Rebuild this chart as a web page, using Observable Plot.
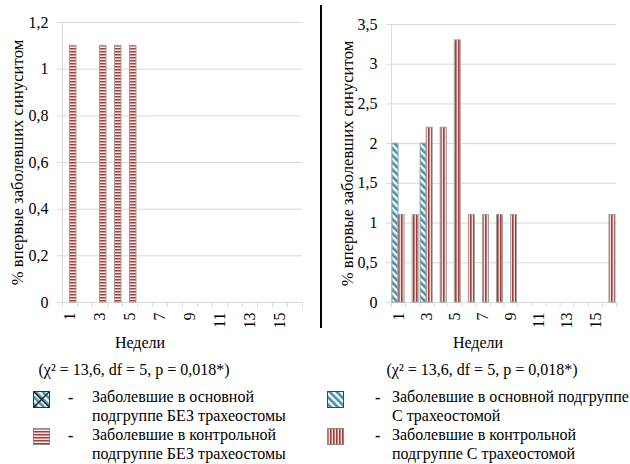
<!DOCTYPE html>
<html><head><meta charset="utf-8">
<script src="https://cdn.jsdelivr.net/npm/d3@7"></script>
<script src="https://cdn.jsdelivr.net/npm/@observablehq/plot@0.6"></script>
<style>
body{margin:0;background:#fff;font-family:"Liberation Serif","Times New Roman",serif;color:#000}
#wrap{position:relative;width:630px;height:464px;overflow:hidden;background:#fff}
.abs{position:absolute;white-space:nowrap;font-size:16px;line-height:19px;font-family:"Liberation Serif","Times New Roman",serif}
.ctr{transform:translateX(-50%)}
#left,#right{position:absolute;top:0}
#left{left:0}
#right{left:320px}
#left svg text,#right svg text{font-family:"Liberation Serif","Times New Roman",serif}
#divider{position:absolute;left:320px;top:5px;width:2px;height:323px;background:#000}
.sw{position:absolute;width:17px;height:17px}
</style></head><body>
<svg width="0" height="0" style="position:absolute">
  <defs>
    <pattern id="hRed" patternUnits="userSpaceOnUse" width="4" height="3">
      <rect width="4" height="3" fill="#f8e8e8"/>
      <rect width="4" height="1.5" fill="#a93c37"/>
    </pattern>
    <pattern id="vRed" patternUnits="userSpaceOnUse" width="3" height="4">
      <rect width="3" height="4" fill="#f2dedd"/>
      <rect width="1.6" height="4" fill="#a83a35"/>
    </pattern>
    <pattern id="dBlue" patternUnits="userSpaceOnUse" width="5" height="5" patternTransform="rotate(-45)">
      <rect width="5" height="5" fill="#ffffff"/>
      <rect width="2.6" height="5" fill="#3a92b6"/>
    </pattern>
  </defs>
</svg>
<div id="wrap">
  <div id="left"></div>
  <div id="right"></div>
  <div id="divider"></div>
  <div id="captions"></div>
  <div id="legend"></div>
</div>
<script>
// ---- data ----
const weeks = [1,2,3,4,5,6,7,8,9,10,11,12,13,14,15,16];
const weekLabels = [1,3,5,7,9,11,13,15];
const leftMainNoTrach    = [0,0,0,0,0,0,0,0,0,0,0,0,0,0,0,0];
const leftControlNoTrach = [1.1,0,1.1,1.1,1.1,0,0,0,0,0,0,0,0,0,0,0];
const rightMainTrach     = [2,0,2,0,0,0,0,0,0,0,0,0,0,0,0,0];
const rightControlTrach  = [1.1,1.1,2.2,2.2,3.3,1.1,1.1,1.1,1.1,0,0,0,0,0,0,1.1];
const leftYTicks  = [0,0.2,0.4,0.6,0.8,1,1.2];
const rightYTicks = [0,0.5,1,1.5,2,2.5,3,3.5];
const yTitle = "% впервые заболевших синуситом";
const xTitle = "Недели";
const statText = "(χ² = 13,6, df = 5, p = 0,018*)";
const legendLeftLabels = [
  ["Заболевшие в основной", "подгруппе БЕЗ трахеостомы"],
  ["Заболевшие в контрольной", "подгруппе БЕЗ трахеостомы"]
];
const legendRightLabels = [
  ["Заболевшие в основной подгруппе", "С трахеостомой"],
  ["Заболевшие в контрольной", "подгруппе С трахеостомой"]
];

const toRows = arr => weeks.map((w, i) => ({week: w, value: arr[i]}));
const fmt = d => String(d).replace(".", ",");
const GRID = "#d9d9d9";
const FONT = "Liberation Serif, Times New Roman, serif";

function chart({width, height, marginLeft, marginRight, marginTop, marginBottom, yTicks, seriesA, seriesB, fillA, fillB, titleDx}) {
  const cw = (width - marginLeft - marginRight) / weeks.length;
  const bounds = weeks.map(w => w - 0.5).concat([weeks[weeks.length - 1] + 0.5]);
  const barOpts = (fill, l, r) => ({
    x1: d => d.week - 0.5, x2: d => d.week + 0.5,
    y1: d => 0, y2: "value",
    filter: d => d.value > 0,
    fill, stroke: "#9e9e9e", strokeWidth: 1,
    insetLeft: l, insetRight: r
  });
  return Plot.plot({
    width, height, marginLeft, marginRight, marginTop, marginBottom,
    style: {fontFamily: FONT, fontSize: "16px", background: "transparent", color: "#000"},
    x: {domain: [bounds[0], bounds[bounds.length - 1]]},
    y: {domain: [0, yTicks[yTicks.length - 1]]},
    marks: [
      Plot.gridY(yTicks, {stroke: GRID, strokeOpacity: 1}),
      Plot.axisY(yTicks, {tickSize: 5, tickPadding: 9, stroke: GRID, strokeOpacity: 1, tickFormat: fmt, fontSize: 16, fontFamily: FONT, label: null}),
      Plot.axisX(bounds, {tickSize: 5, tickFormat: () => "", stroke: GRID, strokeOpacity: 1, label: null}),
      Plot.axisX(weekLabels, {tickSize: 0, tickRotate: -90, tickPadding: 10, fontSize: 16, fontFamily: FONT, label: null}),
      Plot.ruleX([bounds[0]], {stroke: GRID, strokeOpacity: 1}),
      Plot.ruleY([0], {stroke: GRID, strokeOpacity: 1}),
      Plot.rect(toRows(seriesA), barOpts(fillA, 1, cw / 2)),
      Plot.rect(toRows(seriesB), barOpts(fillB, cw / 2, 1)),
      Plot.text([yTitle], {frameAnchor: "left", text: d => d, rotate: -90, dx: titleDx, textAnchor: "middle", lineAnchor: "middle", fontSize: 16.7, fontFamily: FONT, fill: "#000"})
    ]
  });
}

document.getElementById("left").appendChild(chart({
  width: 320, height: 330, marginLeft: 62, marginRight: 18, marginTop: 22, marginBottom: 28,
  yTicks: leftYTicks, seriesA: leftMainNoTrach, seriesB: leftControlNoTrach,
  fillA: "url(#dBlue)", fillB: "url(#hRed)", titleDx: -45
}));
document.getElementById("right").appendChild(chart({
  width: 310, height: 330, marginLeft: 71, marginRight: 14, marginTop: 24, marginBottom: 28,
  yTicks: rightYTicks, seriesA: rightMainTrach, seriesB: rightControlTrach,
  fillA: "url(#dBlue)", fillB: "url(#vRed)", titleDx: -44
}));

// captions
const cap = document.getElementById("captions");
function addText(parent, txt, left, top, cls) {
  const d = document.createElement("div");
  d.className = "abs " + (cls || "");
  d.style.left = left + "px"; d.style.top = top + "px";
  d.textContent = txt;
  parent.appendChild(d);
  return d;
}
addText(cap, xTitle, 140, 333, "ctr");
addText(cap, xTitle, 478, 333, "ctr");
addText(cap, statText, 134, 360, "ctr");
addText(cap, statText, 482, 360, "ctr");

// legend
const leg = document.getElementById("legend");
function swatch(left, top, fill, border, cross) {
  const ns = "http://www.w3.org/2000/svg";
  const s = document.createElementNS(ns, "svg");
  s.setAttribute("class", "sw");
  s.setAttribute("width", 17); s.setAttribute("height", 17);
  s.style.left = left + "px"; s.style.top = top + "px";
  const r = document.createElementNS(ns, "rect");
  r.setAttribute("x", 0.5); r.setAttribute("y", 0.5);
  r.setAttribute("width", 16); r.setAttribute("height", 16);
  r.setAttribute("fill", fill); r.setAttribute("stroke", border);
  s.appendChild(r);
  if (cross) {
    for (const [a, b, c, e] of [[1,1,16,16],[16,1,1,16]]) {
      const l = document.createElementNS(ns, "line");
      l.setAttribute("x1", a); l.setAttribute("y1", b); l.setAttribute("x2", c); l.setAttribute("y2", e);
      l.setAttribute("stroke", "#1a1a1a"); l.setAttribute("stroke-width", 1.3);
      s.appendChild(l);
    }
  }
  leg.appendChild(s);
}
const legRows = [391, 428];
swatch(33, legRows[0], "url(#dBlue)", "#333", true);
swatch(33, legRows[1], "url(#hRed)", "#888", false);
swatch(327, legRows[0], "url(#dBlue)", "#444", false);
swatch(327, legRows[1], "url(#vRed)", "#888", false);
[[legendLeftLabels, 68, 92], [legendRightLabels, 375, 392]].forEach(([labels, dashX, textX]) => {
  labels.forEach((lines, i) => {
    const top = [388, 426][i];
    addText(leg, "-", dashX, top, "").style.fontWeight = "bold";
    addText(leg, lines[0], textX, top - 1, "");
    addText(leg, lines[1], textX, top + 18, "");
  });
});
</script>
</body></html>
